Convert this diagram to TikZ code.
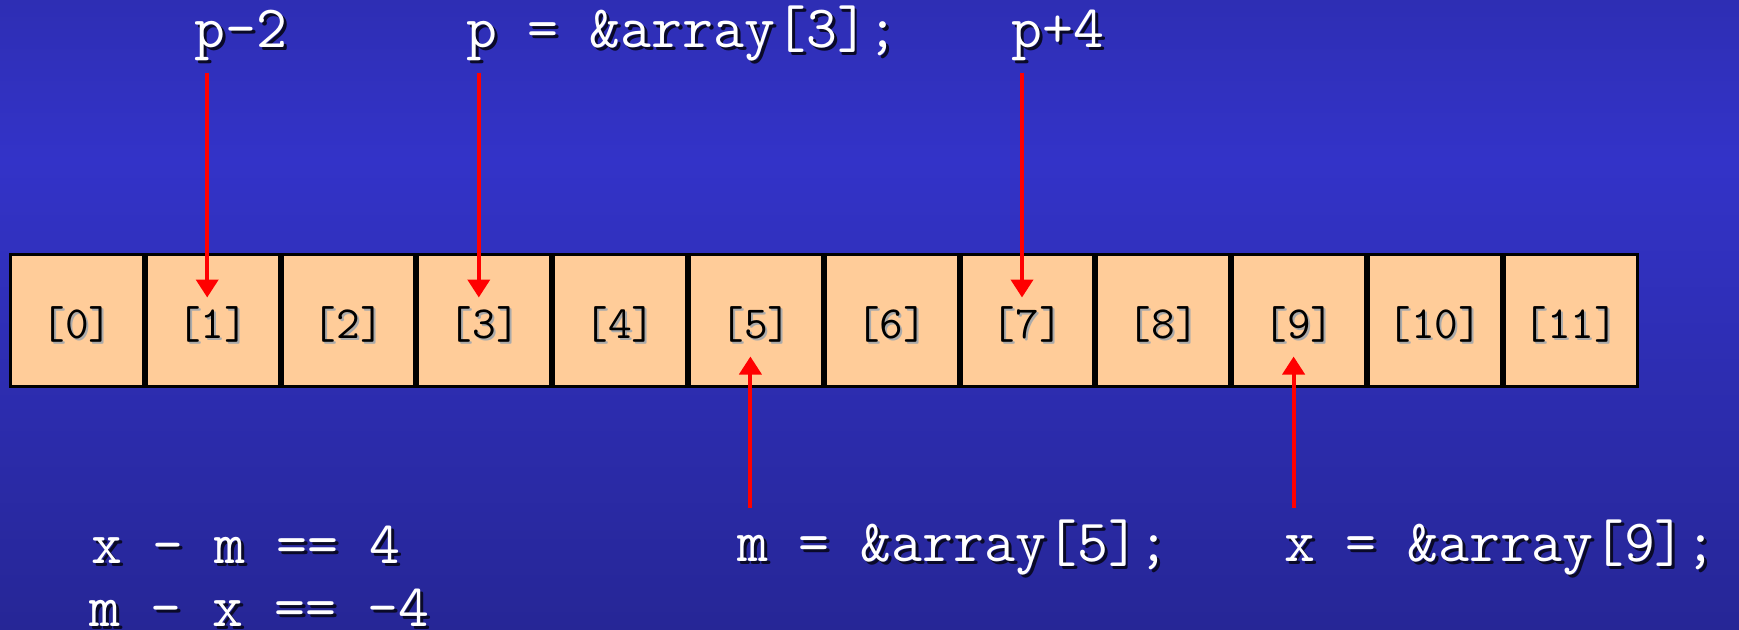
\documentclass[tikz,border=0pt]{standalone}
\usepackage{fontspec}
\usetikzlibrary{arrows.meta}
\definecolor{bgtop}{RGB}{46,46,180}
\definecolor{bgmid}{RGB}{51,51,200}
\definecolor{bgbot}{RGB}{38,38,150}
\definecolor{cellfill}{RGB}{255,204,153}
\definecolor{cellshadow}{RGB}{170,170,170}
\definecolor{txtshadow}{RGB}{10,10,40}
\newcommand\shtext[3]{\rlap{\kern#3\raisebox{-#3}{\color{#2}#1}}#1}
\begin{document}
\begin{tikzpicture}[x=1pt,y=-1pt,
  cellbox/.style={draw=black, line width=3pt, fill=cellfill, minimum width=132.8pt,
    minimum height=132pt, inner sep=0pt, outer sep=0pt,
    font=\ttfamily\fontsize{46}{52}\selectfont, text=black},
  lbl/.style={anchor=base west, inner sep=0pt, text=white,
    font=\ttfamily\fontsize{60}{68}\selectfont},
  ptr/.style={draw=red, line width=4pt, -{Triangle[width=22pt,length=18pt]}}]
\useasboundingbox (0,0) rectangle (1739,629);
\shade[top color=bgtop, bottom color=bgmid] (0,0) rectangle (1739,161);
\shade[top color=bgmid, bottom color=bgbot] (0,160) rectangle (1739,629);
% cells
\foreach \i in {0,...,11}
  \node[cellbox] (c\i) at ({9+135.8*(\i+0.5)},320.5)
    {\raisebox{-18pt}[0pt][0pt]{\shtext{[\i]}{cellshadow}{2pt}}};
% labels
\node[lbl] (lp2) at (194,47) {\shtext{p-2}{txtshadow}{3pt}};
\node[lbl] (lp)  at (466,47) {\shtext{p = \&array[3];}{txtshadow}{3pt}};
\node[lbl] (lp4) at (1011,47) {\shtext{p+4}{txtshadow}{3pt}};
\node[lbl] (lxm) at (91,563) {\shtext{x - m == 4}{txtshadow}{3pt}};
\node[lbl] (lmx) at (89,626) {\shtext{m - x == -4}{txtshadow}{3pt}};
\node[lbl] (lm)  at (737,561) {\shtext{m = \&array[5];}{txtshadow}{3pt}};
\node[lbl] (lx)  at (1284,561) {\shtext{x = \&array[9];}{txtshadow}{3pt}};
% arrow ends
\foreach \i in {1,3,7} {
  \coordinate (s\i) at ([xshift=-5.5pt,yshift=182pt]c\i.north);
  \coordinate (e\i) at ([xshift=-5.5pt,yshift=-43pt]c\i.north);
  \draw[ptr] (s\i) -- (e\i);
}
\foreach \i in {5,9} {
  \coordinate (s\i) at ([xshift=-5.5pt,yshift=-121pt]c\i.south);
  \coordinate (e\i) at ([xshift=-5.5pt,yshift=30pt]c\i.south);
  \draw[ptr] (s\i) -- (e\i);
}
\end{tikzpicture}
\end{document}
